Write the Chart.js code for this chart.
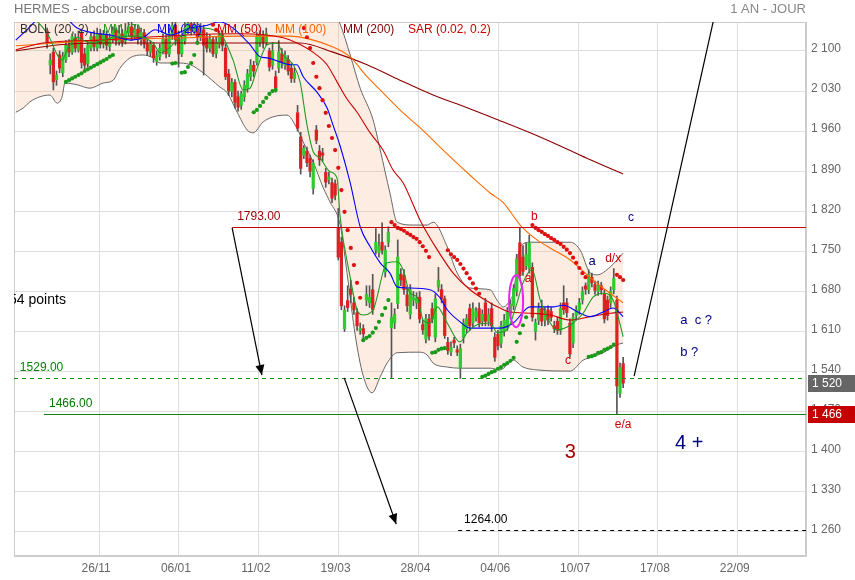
<!DOCTYPE html>
<html><head><meta charset="utf-8">
<script src="https://cdn.jsdelivr.net/npm/chart.js@4.4.0/dist/chart.umd.min.js"></script>
<style>html,body{margin:0;padding:0;background:#fff;}canvas{display:block;}</style>
</head><body>
<canvas id="c" width="855" height="580"></canvas>
<script>
// ---------- DATA ----------
const tickLabels = ['26/11','06/01','11/02','19/03','28/04','04/06','10/07','17/08','22/09'];
const tickPos = [26.6,52.1,77.6,103.1,128.6,154.1,179.6,205.1,230.6];
const yTicks = [1260,1330,1400,1470,1540,1610,1680,1750,1820,1890,1960,2030,2100];

const open = [
2175,2168,2180,2172,2185,2176,2188,2178,2170,2174,
2135,2076,2098,2050,2093,2062,2085,2110,2098,2122,
2102,2132,2095,2078,2105,2125,2105,2130,2112,2128,
2108,2120,2135,2115,2130,2118,2132,2142,2125,2138,
2120,2132,2112,2098,2110,2082,2090,2100,2120,2095,
2128,2145,2125,2095,2118,2138,2148,2135,2140,2125,
2137,2125,2105,2120,2095,2112,2128,2105,2060,2030,
2045,2020,2005,2020,2035,2055,2075,2080,2115,2128,
2115,2100,2075,2055,2070,2095,2075,2085,2070,2052,
1992,1950,1918,1925,1912,1860,1962,1925,1922,1888,
1875,1870,1868,1792,1766,1615,1664,1684,1660,1643,
1612,1615,1665,1660,1683,1752,1748,1766,1714,1766,
1617,1625,1659,1710,1708,1674,1640,1665,1660,1670,
1622,1597,1632,1650,1600,1688,1683,1667,1591,1574,
1595,1578,1546,1600,1615,1650,1625,1635,1650,1628,
1660,1628,1650,1600,1605,1590,1610,1620,1640,1655,
1680,1765,1740,1725,1720,1722,1610,1630,1650,1630,
1648,1645,1620,1628,1612,1660,1660,1625,1590,1638,
1648,1665,1690,1683,1705,1692,1680,1690,1675,1665,
1660,1683,1665,1502,1554];
const high = [
2190,2185,2192,2188,2198,2190,2200,2192,2184,2186,
2140,2095,2105,2065,2100,2098,2118,2120,2130,2130,
2135,2138,2105,2118,2132,2135,2140,2138,2136,2135,
2130,2142,2140,2145,2138,2148,2150,2150,2146,2145,
2140,2138,2120,2118,2115,2100,2112,2130,2128,2140,
2155,2152,2135,2128,2150,2155,2155,2155,2150,2148,
2145,2132,2128,2125,2125,2135,2135,2112,2068,2052,
2050,2030,2030,2048,2068,2085,2082,2132,2135,2135,
2140,2105,2115,2065,2118,2104,2100,2092,2078,2070,
2005,1958,1935,1932,1918,1910,1970,1935,1930,1895,
1888,1878,1875,1825,1775,1655,1690,1700,1670,1650,
1625,1622,1690,1690,1710,1790,1780,1800,1760,1793,
1660,1650,1770,1720,1718,1690,1692,1680,1678,1680,
1630,1640,1640,1660,1675,1722,1692,1672,1600,1592,
1600,1585,1588,1632,1640,1658,1660,1652,1660,1648,
1668,1650,1660,1608,1612,1628,1640,1652,1665,1692,
1745,1792,1760,1765,1778,1730,1632,1660,1665,1652,
1655,1652,1628,1635,1660,1690,1668,1632,1642,1655,
1668,1688,1695,1718,1712,1698,1698,1696,1683,1672,
1688,1720,1672,1555,1565];
const low = [
2160,2158,2166,2160,2170,2164,2172,2165,2158,2156,
2105,2060,2032,2040,2062,2055,2080,2090,2094,2098,
2098,2070,2068,2072,2100,2100,2100,2105,2105,2102,
2100,2115,2110,2110,2108,2112,2125,2118,2120,2112,
2110,2105,2092,2090,2080,2075,2084,2095,2088,2090,
2120,2110,2072,2090,2112,2130,2128,2130,2118,2118,
2058,2098,2098,2090,2088,2105,2100,2050,2022,2020,
2000,1995,1998,2012,2028,2048,2055,2075,2108,2105,
2110,2065,2068,2028,2062,2070,2068,2058,2045,2045,
1960,1885,1912,1898,1880,1850,1938,1900,1908,1862,
1868,1835,1840,1735,1648,1610,1645,1660,1640,1612,
1605,1598,1655,1652,1640,1745,1740,1745,1705,1758,
1528,1615,1650,1690,1675,1645,1632,1655,1650,1625,
1605,1590,1595,1625,1592,1680,1660,1598,1570,1568,
1582,1568,1528,1590,1608,1612,1618,1628,1618,1620,
1620,1620,1610,1558,1578,1582,1602,1612,1632,1648,
1672,1700,1708,1718,1712,1628,1595,1622,1620,1620,
1622,1628,1608,1605,1605,1640,1635,1565,1582,1630,
1640,1658,1675,1676,1688,1675,1673,1675,1625,1630,
1652,1676,1466,1495,1512];
const close = [
2168,2180,2172,2185,2176,2188,2178,2170,2174,2160,
2115,2084,2046,2058,2070,2090,2110,2098,2125,2105,
2120,2080,2075,2110,2125,2108,2130,2112,2128,2110,
2122,2135,2118,2130,2115,2135,2142,2125,2138,2120,
2132,2112,2100,2112,2088,2092,2105,2120,2095,2130,
2145,2120,2095,2120,2140,2148,2135,2145,2125,2138,
2110,2105,2120,2095,2115,2128,2110,2055,2030,2045,
2010,2002,2025,2040,2060,2075,2065,2125,2128,2115,
2130,2072,2100,2035,2098,2080,2092,2065,2052,2062,
1965,1895,1930,1905,1890,1904,1944,1910,1918,1871,
1880,1843,1848,1740,1655,1647,1652,1675,1648,1620,
1615,1606,1675,1670,1648,1766,1760,1752,1752,1783,
1635,1640,1740,1700,1683,1655,1683,1670,1668,1632,
1613,1632,1602,1632,1667,1700,1667,1603,1577,1582,
1590,1574,1580,1625,1633,1620,1650,1645,1625,1640,
1628,1640,1620,1565,1585,1620,1630,1645,1658,1685,
1737,1708,1715,1745,1765,1635,1625,1650,1628,1645,
1630,1635,1615,1612,1650,1648,1643,1571,1635,1648,
1660,1680,1684,1710,1695,1682,1690,1683,1632,1638,
1680,1703,1515,1547,1520];

// moving averages: [day index, value]
const mm7 = [[0,2170],[5,2160],[10,2131],[14.8,2084],[16.4,2102],[19.5,2124],[23.7,2114],[31.1,2124],[38.1,2126],[43.8,2114],[46.1,2097],[48.3,2102],[51.5,2119],[54.7,2137],[58.9,2140],[65.2,2131],[69.4,2084],[72.6,2032],[74.8,2035],[77.1,2070],[80.3,2111],[83.5,2114],[85.4,2093],[88.6,2076],[90.8,2046],[93,1971],[95,1924],[97.2,1913],[100.4,1889],[102.6,1878],[103.6,1810],[106.8,1705],[109,1648],[110.9,1639],[114.1,1648],[118.6,1730],[121.8,1732],[123.7,1718],[125.9,1677],[128.2,1670],[130.1,1630],[132.3,1625],[134.6,1653],[137.8,1625],[141.9,1592],[144.2,1608],[147.3,1622],[151.5,1625],[153.8,1608],[156.9,1613],[160.1,1660],[162,1695],[164.9,1718],[167.5,1665],[170.7,1625],[172.9,1613],[176.1,1618],[178,1625],[181.2,1642],[184.4,1670],[187.6,1677],[190.8,1665],[192.4,1635],[194,1601]];
const mm20 = [[0,2119],[3.6,2137],[9.3,2163],[15.7,2158],[19.6,2140],[25.3,2131],[30.1,2128],[36.5,2119],[40.6,2123],[44.5,2137],[49.3,2128],[55.7,2140],[60.4,2144],[65.2,2151],[69.4,2140],[74.8,2111],[78,2090],[80.3,2088],[84.4,2081],[87.6,2076],[89.8,2076],[91.8,2055],[96.2,2028],[99.4,2001],[101.3,1971],[103.6,1934],[106.8,1870],[110,1793],[113.2,1758],[116.4,1730],[119.5,1712],[121.8,1688],[125,1686],[132.3,1683],[135.5,1669],[137.8,1648],[141.9,1627],[145.1,1616],[154.7,1616],[158.9,1625],[164.3,1653],[171.6,1653],[174.8,1656],[180.3,1642],[183.5,1636],[187.6,1644],[190.8,1651],[194,1636]];
const mm50 = [[0,2102],[8.7,2114],[26.9,2119],[54.7,2128],[71.6,2130],[85.4,2123],[89.8,2114],[94.9,2098],[99.4,2076],[102.6,2046],[105.8,2016],[109,1993],[113.2,1957],[117.3,1927],[120.5,1892],[123.7,1870],[129.1,1805],[134.6,1753],[139.7,1712],[145.1,1683],[151.5,1660],[154.7,1651],[157.9,1644],[164.3,1642],[170.7,1639],[177.1,1630],[183.5,1636],[189.9,1642],[194,1644]];
const mm100 = [[0,2109],[26.9,2119],[54.7,2123],[71.6,2126],[87.6,2126],[101.3,2107],[106.7,2090],[112.2,2055],[118,2023],[122.7,1997],[129.1,1966],[136.5,1927],[145.1,1883],[151.5,1852],[155.7,1835],[161.1,1796],[166.5,1770],[171.6,1753],[177.1,1735],[182.5,1709],[187.6,1686],[194,1660]];
const mm200 = [[0,2100],[14.1,2111],[26.9,2114],[90.8,2114],[101.3,2098],[112.2,2076],[122.7,2049],[133.3,2023],[144.2,2001],[152.5,1983],[164.3,1957],[173.9,1934],[183.5,1910],[194,1885]];
const bollUpper = [[0,2245],[20,2215],[40,2190],[55,2185],[70,2200],[85,2215],[95,2200],[101.3,2172],[103.6,2147],[106.8,2093],[110,2035],[114.1,1980],[116.4,1927],[119.5,1852],[121.8,1801],[126.9,1796],[131.4,1796],[133.3,1801],[137.8,1758],[141,1712],[145.1,1686],[151.5,1683],[153.7,1665],[155.7,1653],[157.9,1665],[158.9,1677],[161.1,1758],[164.3,1766],[177.1,1766],[180.3,1752],[183.5,1712],[185.7,1709],[189.9,1723],[194,1747]];
const bollLower = [[0,1993],[2.3,2000],[4.5,2011],[7.7,2020],[10.9,2023],[13.2,2009],[14.8,2020],[15.7,2044],[19.6,2041],[23.7,2035],[27.9,2044],[31.1,2049],[33.3,2070],[36.5,2088],[40.6,2093],[43.8,2088],[46.1,2079],[51.5,2079],[55.7,2076],[59.8,2062],[65.2,2037],[67.5,2027],[70.7,1993],[73.9,1962],[75.8,1957],[79,1976],[82.2,1985],[86.6,1988],[89.8,1965],[91.8,1941],[95,1906],[98.2,1861],[100.4,1836],[103.6,1796],[106.1,1700],[108.4,1604],[110.9,1534],[113.8,1503],[116.4,1531],[118.6,1555],[121.8,1573],[129.1,1574],[131.4,1569],[133.3,1555],[137.8,1548],[141.9,1546],[151.5,1546],[154.7,1543],[158.9,1560],[162,1548],[166.5,1543],[177.1,1541],[181.2,1560],[184.4,1566],[187.6,1573],[192.1,1587],[194,1590]];

// parabolic SAR runs: [first day index, values...]
const sarUp = [
 [16,[2046,2049,2052,2055,2058,2061,2065,2068,2071,2074,2077,2080,2083,2086,2090,2093]],
 [50,[2078,2079]],
 [53,[2062,2063,2072,2079,2093,2114]],
 [76,[1993,1997,2004,2011,2018,2025,2030,2032]],
 [111,[1595,1599,1602,1608,1616,1627,1639,1651,1665]],
 [133,[1573,1574,1578,1580,1581]],
 [149,[1531,1533,1536,1539,1541,1545,1548,1552,1555,1559,1564,1592,1607,1621,1635]],
 [183,[1566,1567,1569,1573,1574,1578,1580,1583,1587]]
];
const sarDown = [
 [63,[2146,2137]],
 [92,[2140,2124,2105,2079,2055,2035,2014,1992,1969,1948,1927,1896,1857,1819,1787,1756,1726,1695,1669]],
 [120,[1801,1796,1791,1789,1786,1782,1779,1775,1772,1766,1759,1751,1740]],
 [138,[1752,1745,1740,1735,1728,1720,1712,1703,1694,1685,1676]],
 [165,[1796,1791,1787,1784,1780,1777,1773,1770,1766,1763,1758,1753,1747,1739,1730,1721,1712,1705]],
 [192,[1709,1705,1700]]
];

// horizontal levels
const levelValues = [1793, 1529, 1466, 1264];
const levelFrom = [69.1, null, 9.0, 141.3];
const levelLabels = ['1793.00','1529.00','1466.00','1264.00'];
const levelLabelAt = [70.7, 1.3, 10.6, 143.2];
// arrows (day index, price)
const arrowFrom = [[69.1,1791],[104.9,1529],[197.5,1532]];
const arrowTo = [[78.6,1534],[121.5,1274],[224.3,2189]];
// wave notes
const noteText = ['b','c','a','a','d/x','c','e/a','3','4 +','a  c ?','b ?','54 points'];
const notePos = [[165.6,1810],[196.5,1808],[163.6,1702],[184.1,1733],[190.8,1737],[176.4,1559],[194.0,1447],[177.1,1398],[215.1,1415],[217.3,1630],[215.1,1574],[16.0,1665]];
const ellipseAt = [159.8, 1663];
// price tags
const tagValues = [1520, 1466];
// legend
const legendText = ['BOLL (20, 2)','MM (7)','MM (20)','MM (50)','MM (100)','MM (200)','SAR (0.02, 0.2)'];

// ---------- STYLES ----------
const FONT = "'Liberation Sans', Arial, sans-serif";
const levelStyle = [
  {c:'#cc0000', dash:[], lc:'#990000'},
  {c:'#109010', dash:[4,4], lc:'#008800'},
  {c:'#108010', dash:[], lc:'#007700'},
  {c:'#000000', dash:[4,4], lc:'#000000'}
];
const noteStyle = [
  {c:'#cc0000',s:12},{c:'#000080',s:12},{c:'#cc0000',s:12},{c:'#000080',s:13},{c:'#cc0000',s:12},
  {c:'#cc0000',s:12},{c:'#cc0000',s:12},{c:'#aa0000',s:20},{c:'#000080',s:20},{c:'#000080',s:13},
  {c:'#000080',s:13},{c:'#000000',s:14,align:'right'}
];
const legendX = [20,103,157,217,275,343,408];
const legendColor = ['#333333','#229922','#0000ff','#cc0000','#ff6600','#800000','#cc0000'];
const tagColor = ['#666666','#c40000'];

const fmt = v => { const s = String(Math.round(v)); return s.length > 3 ? s.slice(0,-3) + ' ' + s.slice(-3) : s; };
const pts = arr => arr.map(p => ({x:p[0], y:p[1]}));
const runs = rs => { const out = []; rs.forEach(r => r[1].forEach((v,k) => out.push({x:r[0]+k, y:v}))); return out; };
const idx = close.map((_,i) => i);

function drawArrow(ctx, x1, y1, x2, y2, head) {
  ctx.beginPath(); ctx.moveTo(x1,y1); ctx.lineTo(x2,y2); ctx.stroke();
  if (!head) return;
  const a = Math.atan2(y2-y1, x2-x1), L = 10, W = 4.5;
  ctx.beginPath(); ctx.moveTo(x2,y2);
  ctx.lineTo(x2 - L*Math.cos(a) + W*Math.sin(a), y2 - L*Math.sin(a) - W*Math.cos(a));
  ctx.lineTo(x2 - L*Math.cos(a) - W*Math.sin(a), y2 - L*Math.sin(a) + W*Math.cos(a));
  ctx.closePath(); ctx.fill();
}

const annot = {
  id: 'annot',
  beforeDatasetsDraw(chart) {
    const {ctx, chartArea:a} = chart;
    ctx.save(); ctx.strokeStyle = '#cccccc'; ctx.lineWidth = 1;
    ctx.strokeRect(a.left+0.5, a.top+0.5, a.right-a.left-1, a.bottom-a.top-1);
    ctx.restore();
  },
  afterDatasetsDraw(chart) {
    const {ctx, chartArea:a, scales:{x, y}} = chart;
    ctx.save();
    ctx.beginPath(); ctx.rect(a.left, a.top, a.right-a.left, a.bottom-a.top); ctx.clip();
    levelValues.forEach((v,k) => {
      const py = Math.round(y.getPixelForValue(v)) + 0.5;
      const px0 = levelFrom[k] == null ? a.left : x.getPixelForValue(levelFrom[k]);
      ctx.strokeStyle = levelStyle[k].c; ctx.lineWidth = 1.2; ctx.setLineDash(levelStyle[k].dash);
      ctx.beginPath(); ctx.moveTo(px0, py); ctx.lineTo(a.right, py); ctx.stroke();
      ctx.setLineDash([]);
      ctx.fillStyle = levelStyle[k].lc; ctx.font = '12px ' + FONT;
      ctx.textAlign = 'left'; ctx.textBaseline = 'middle';
      ctx.fillText(levelLabels[k], x.getPixelForValue(levelLabelAt[k]), py - 10.5);
    });
    ctx.strokeStyle = '#000'; ctx.fillStyle = '#000'; ctx.lineWidth = 1.2;
    arrowFrom.forEach((f,k) => {
      const t = arrowTo[k];
      drawArrow(ctx, x.getPixelForValue(f[0]), y.getPixelForValue(f[1]), x.getPixelForValue(t[0]), y.getPixelForValue(t[1]), k < 2);
    });
    ctx.strokeStyle = '#ee22ee'; ctx.lineWidth = 2;
    ctx.beginPath(); ctx.ellipse(x.getPixelForValue(ellipseAt[0]), y.getPixelForValue(ellipseAt[1]), 7, 26, 0, 0, Math.PI*2); ctx.stroke();
    noteText.forEach((t,k) => {
      const st = noteStyle[k];
      ctx.fillStyle = st.c; ctx.font = st.s + 'px ' + FONT;
      ctx.textAlign = st.align || 'center'; ctx.textBaseline = 'middle';
      ctx.fillText(t, x.getPixelForValue(notePos[k][0]), y.getPixelForValue(notePos[k][1]));
    });
    ctx.font = '12px ' + FONT; ctx.textAlign = 'left'; ctx.textBaseline = 'middle';
    legendText.forEach((t,k) => { ctx.fillStyle = legendColor[k]; ctx.fillText(t, legendX[k], 30); });
    ctx.restore();
  },
  afterDraw(chart) {
    const {ctx, chartArea:a, scales:{y}} = chart;
    ctx.save();
    ctx.font = '13px ' + FONT; ctx.textBaseline = 'middle';
    ctx.fillStyle = '#777'; ctx.textAlign = 'left'; ctx.fillText('HERMES - abcbourse.com', 14, 9);
    ctx.fillStyle = '#888'; ctx.textAlign = 'right'; ctx.fillText('1 AN - JOUR', 806, 9);
    tagValues.forEach((v,k) => {
      const py = y.getPixelForValue(v);
      ctx.fillStyle = tagColor[k]; ctx.fillRect(a.right + 2, Math.round(py) - 8, 49, 17);
      ctx.fillStyle = '#fff'; ctx.font = '12px ' + FONT; ctx.textAlign = 'left';
      ctx.fillText(fmt(v), a.right + 6, py + 0.5);
    });
    ctx.restore();
  }
};

new Chart(document.getElementById('c'), {
  type: 'line',
  data: { datasets: [
    {type:'line', data: pts(bollUpper), borderColor:'#666', borderWidth:1, pointRadius:0, cubicInterpolationMode:'monotone',
     fill:{target:'+1', above:'rgba(248,180,140,0.25)', below:'rgba(248,180,140,0.25)'}, order:20},
    {type:'line', data: pts(bollLower), borderColor:'#666', borderWidth:1, pointRadius:0, cubicInterpolationMode:'monotone', fill:false, order:19},
    {type:'bar', data: idx.map(i => ({x:i, y:[low[i], high[i]]})), backgroundColor:'#555', barThickness:1, grouped:false, order:15},
    {type:'bar', data: idx.map(i => ({x:i, y:[open[i], close[i]]})), grouped:false, barThickness:2.6, minBarLength:1,
     backgroundColor: c => close[c.dataIndex] >= open[c.dataIndex] ? '#2fcc2f' : '#dd2020', order:14},
    {type:'line', data: pts(mm200), borderColor:'#8b0000', borderWidth:1.1, pointRadius:0, cubicInterpolationMode:'monotone', fill:false, order:10},
    {type:'line', data: pts(mm100), borderColor:'#ff6a00', borderWidth:1.1, pointRadius:0, cubicInterpolationMode:'monotone', fill:false, order:9},
    {type:'line', data: pts(mm50), borderColor:'#cc0000', borderWidth:1.1, pointRadius:0, cubicInterpolationMode:'monotone', fill:false, order:8},
    {type:'line', data: pts(mm20), borderColor:'#0000ff', borderWidth:1.1, pointRadius:0, cubicInterpolationMode:'monotone', fill:false, order:7},
    {type:'line', data: pts(mm7), borderColor:'#229922', borderWidth:1.1, pointRadius:0, cubicInterpolationMode:'monotone', fill:false, order:6},
    {type:'line', data: runs(sarUp), showLine:false, pointRadius:2.1, pointBorderWidth:0, pointBackgroundColor:'#1a9a1a', order:1},
    {type:'line', data: runs(sarDown), showLine:false, pointRadius:2.1, pointBorderWidth:0, pointBackgroundColor:'#dd1111', order:0}
  ]},
  options: {
    responsive:false, animation:false, devicePixelRatio:1,
    layout:{padding:{left:14, top:22, right:0, bottom:0}},
    plugins:{legend:{display:false}, tooltip:{enabled:false}},
    scales:{
      x:{type:'linear', min:-0.575, max:252.4, offset:false,
         afterBuildTicks: s => { s.ticks = tickPos.map(v => ({value:v})); },
         afterFit: s => { s.height = 24; },
         grid:{color:'#dddddd', drawTicks:false, offset:false},
         border:{color:'#cccccc'},
         ticks:{autoSkip:false, maxRotation:0, padding:5, labelOffset:-3, color:'#666', font:{family:FONT, size:12},
                callback:(v,i) => tickLabels[i]}},
      y:{type:'linear', position:'right', min:1218, max:2150.6,
         afterBuildTicks: s => { s.ticks = yTicks.map(v => ({value:v})); },
         afterFit: s => { s.width = 49; },
         grid:{color:'#dddddd', drawTicks:false},
         border:{color:'#cccccc'},
         ticks:{padding:5, labelOffset:-2, color:'#666', font:{family:FONT, size:12}, callback: v => fmt(v)}}
    }
  },
  plugins:[annot]
});
</script>
</body></html>
